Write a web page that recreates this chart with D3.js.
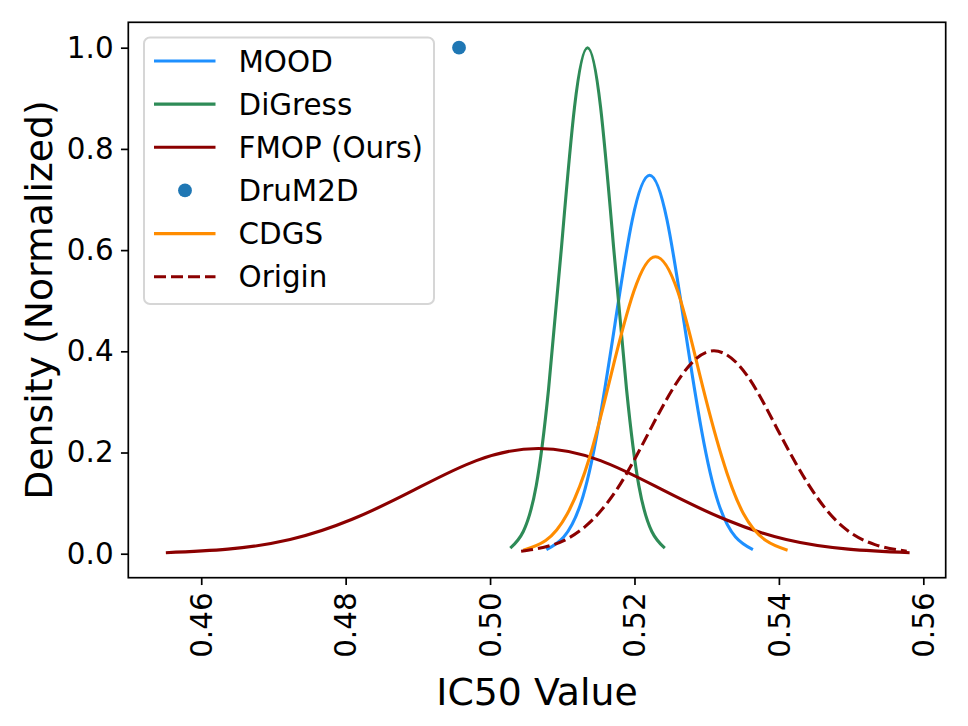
<!DOCTYPE html>
<html>
<head>
<meta charset="utf-8">
<script src="https://cdn.jsdelivr.net/npm/d3@7"></script>
<style>
  body { margin: 0; background: #fff; }
  text { font-family: "DejaVu Sans", sans-serif; fill: #000; }
</style>
</head>
<body>
<script>
// Curve points (x = IC50 value, y = normalized density)
const moodPts = [
  [0.5078, 0.008], [0.5102, 0.033], [0.5126, 0.101], [0.5149, 0.243], [0.5173, 0.454],
  [0.5197, 0.660], [0.5221, 0.748], [0.5245, 0.660], [0.5269, 0.454], [0.5293, 0.243],
  [0.5316, 0.101], [0.5340, 0.033], [0.5364, 0.008]
];
const digressPts = [
  [0.5028, 0.011], [0.5046, 0.044], [0.5064, 0.135], [0.5081, 0.325], [0.5099, 0.607],
  [0.5117, 0.883], [0.5135, 1.000], [0.5153, 0.883], [0.5171, 0.607], [0.5189, 0.325],
  [0.5206, 0.135], [0.5224, 0.044], [0.5242, 0.011]
];
const fmopPts = [
  [0.4551, 0.002], [0.4637, 0.009], [0.4723, 0.028], [0.4809, 0.068], [0.4895, 0.126],
  [0.4981, 0.184], [0.5067, 0.208], [0.5153, 0.184], [0.5239, 0.126], [0.5325, 0.068],
  [0.5410, 0.028], [0.5496, 0.009], [0.5581, 0.002]
];
const drum2dPts = [[0.4957, 1.0]];
const cdgsPts = [
  [0.5046, 0.007], [0.5077, 0.026], [0.5107, 0.079], [0.5138, 0.191], [0.5168, 0.356],
  [0.5199, 0.518], [0.5229, 0.587], [0.5260, 0.518], [0.5290, 0.356], [0.5321, 0.191],
  [0.5351, 0.079], [0.5382, 0.026], [0.5412, 0.007]
];
const originPts = [
  [0.5043, 0.005], [0.5088, 0.018], [0.5132, 0.054], [0.5177, 0.130], [0.5221, 0.243],
  [0.5266, 0.354], [0.5310, 0.401], [0.5355, 0.354], [0.5399, 0.243], [0.5444, 0.130],
  [0.5488, 0.054], [0.5533, 0.018], [0.5577, 0.005]
];

const seriesNames = ['MOOD', 'DiGress', 'FMOP (Ours)', 'DruM2D', 'CDGS', 'Origin'];
const xTicks = [0.46, 0.48, 0.50, 0.52, 0.54, 0.56];
const yTicks = [0.0, 0.2, 0.4, 0.6, 0.8, 1.0];

// Canvas and plot area
const WIDTH = 968;
const HEIGHT = 726;
const LEFT = 128.3, RIGHT = 945.7, TOP = 22.3, BOTTOM = 577.7;
const FS = 29.4;      // 14pt at this dpi
const LW = 3.1;       // line width
const TICK = 7.35;
const DASH = '12,5';

const styles = [
  { pts: moodPts, color: '#1e90ff', kind: 'line' },
  { pts: digressPts, color: '#2e8b57', kind: 'line' },
  { pts: fmopPts, color: '#8b0000', kind: 'line' },
  { pts: drum2dPts, color: '#1f77b4', kind: 'dot' },
  { pts: cdgsPts, color: '#ff8c00', kind: 'line' },
  { pts: originPts, color: '#8b0000', kind: 'dash' }
];

function initCanvas() {
  const svg = d3.select('body').append('svg')
    .attr('width', WIDTH)
    .attr('height', HEIGHT);
  svg.append('rect').attr('width', WIDTH).attr('height', HEIGHT).attr('fill', '#fff');
  return svg;
}

const x = d3.scaleLinear().domain([0.4499, 0.5631]).range([LEFT, RIGHT]);
const y = d3.scaleLinear().domain([-0.0474, 1.0502]).range([BOTTOM, TOP]);

function drawCurves(svg) {
  const line = d3.line()
    .x(d => x(d[0]))
    .y(d => y(d[1]))
    .curve(d3.curveNatural);

  styles.forEach(s => {
    if (s.kind === 'dot') {
      svg.append('g').selectAll('circle')
        .data(s.pts)
        .join('circle')
        .attr('cx', d => x(d[0]))
        .attr('cy', d => y(d[1]))
        .attr('r', 6.9)
        .attr('fill', s.color);
    } else {
      svg.append('path')
        .datum(s.pts)
        .attr('d', line)
        .attr('fill', 'none')
        .attr('stroke', s.color)
        .attr('stroke-width', LW)
        .attr('stroke-dasharray', s.kind === 'dash' ? DASH : null);
    }
  });
}

function drawAxes(svg) {
  // x axis with rotated labels
  const gx = svg.append('g')
    .attr('transform', `translate(0,${BOTTOM})`)
    .call(d3.axisBottom(x).tickValues(xTicks).tickFormat(d3.format('.2f'))
      .tickSize(TICK).tickPadding(TICK));
  gx.select('.domain').remove();
  gx.selectAll('line').attr('stroke', '#000').attr('stroke-width', 1.7);
  gx.selectAll('text')
    .attr('y', 0)
    .attr('x', -(TICK + TICK))
    .attr('dy', '0.35em')
    .attr('transform', 'rotate(-90)')
    .style('text-anchor', 'end')
    .style('font-size', FS + 'px')
    .style('font-family', '"DejaVu Sans", sans-serif');

  // y axis
  const gy = svg.append('g')
    .attr('transform', `translate(${LEFT},0)`)
    .call(d3.axisLeft(y).tickValues(yTicks).tickFormat(d3.format('.1f'))
      .tickSize(TICK).tickPadding(TICK));
  gy.select('.domain').remove();
  gy.selectAll('line').attr('stroke', '#000').attr('stroke-width', 1.7);
  gy.selectAll('text')
    .style('font-size', FS + 'px')
    .style('font-family', '"DejaVu Sans", sans-serif');

  // frame
  svg.append('rect')
    .attr('x', LEFT).attr('y', TOP)
    .attr('width', RIGHT - LEFT).attr('height', BOTTOM - TOP)
    .attr('fill', 'none')
    .attr('stroke', '#000')
    .attr('stroke-width', 1.7);

  // axis titles
  svg.append('text')
    .attr('x', (LEFT + RIGHT) / 2)
    .attr('y', 705)
    .attr('text-anchor', 'middle')
    .style('font-size', '37.8px')
    .text('IC50 Value');

  svg.append('text')
    .attr('transform', `translate(52,${(TOP + BOTTOM) / 2}) rotate(-90)`)
    .attr('text-anchor', 'middle')
    .style('font-size', '37.8px')
    .text('Density (Normalized)');
}

function drawLegend(svg) {
  const lg = svg.append('g');
  lg.append('rect')
    .attr('x', 144).attr('y', 37.5)
    .attr('width', 290).attr('height', 266.5)
    .attr('rx', 6).attr('ry', 6)
    .attr('fill', 'rgba(255,255,255,0.8)')
    .attr('stroke', '#d6d6d6')
    .attr('stroke-width', 2);

  const rowY = i => 61 + i * 43.15;
  seriesNames.forEach((name, i) => {
    const s = styles[i];
    const cy = rowY(i);
    if (s.kind === 'dot') {
      lg.append('circle').attr('cx', 185).attr('cy', cy).attr('r', 6.9).attr('fill', s.color);
    } else {
      lg.append('line')
        .attr('x1', 154).attr('x2', 215.5)
        .attr('y1', cy).attr('y2', cy)
        .attr('stroke', s.color)
        .attr('stroke-width', LW)
        .attr('stroke-dasharray', s.kind === 'dash' ? DASH : null);
    }
    lg.append('text')
      .attr('x', 238.5)
      .attr('y', cy + 10.6)
      .style('font-size', FS + 'px')
      .text(name);
  });
}

function main() {
  const svg = initCanvas();
  drawCurves(svg);
  drawAxes(svg);
  drawLegend(svg);
}

main();
</script>
</body>
</html>
